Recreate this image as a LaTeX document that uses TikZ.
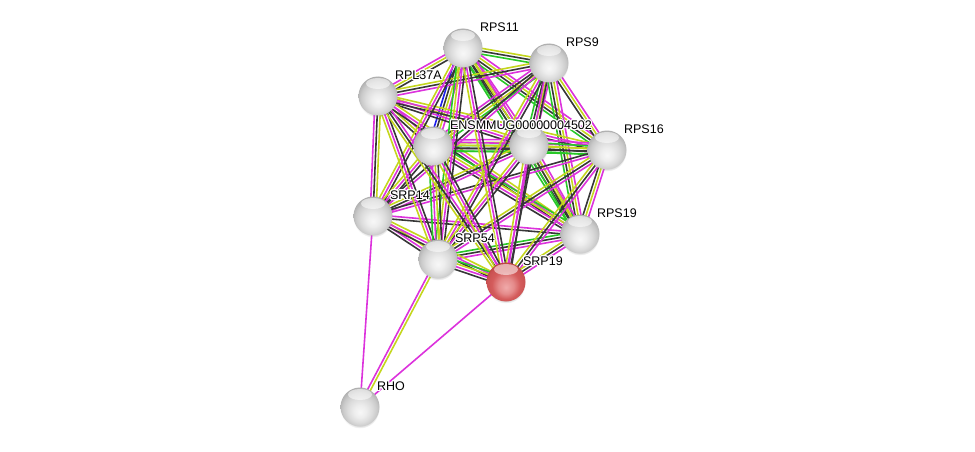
\documentclass[tikz,border=0pt]{standalone}
\usepackage{fontspec}
\usepackage[copies]{contour}
\contourlength{1.1pt}
\contournumber{16}
\newfontfamily\lblfont{Liberation Sans}
\usetikzlibrary{calc}
\usetikzlibrary{shadows}
\usetikzlibrary{backgrounds}

\definecolor{evk}{RGB}{55,55,55}
\definecolor{evm}{RGB}{220,50,220}
\definecolor{evt}{RGB}{196,214,30}
\definecolor{evg}{RGB}{40,200,40}
\definecolor{evb}{RGB}{30,30,235}
\definecolor{redmid}{RGB}{212,92,92}
\definecolor{redrim}{RGB}{160,40,40}
\definecolor{redlow}{RGB}{240,170,170}

\pgfdeclareradialshading{greyball}{\pgfpoint{0bp}{-7bp}}{%
  color(0bp)=(white!94!gray); color(8bp)=(gray!14); color(16bp)=(gray!28);
  color(22bp)=(gray!42); color(27bp)=(gray!62); color(32bp)=(gray!78); color(40bp)=(gray!78)}
\pgfdeclareradialshading{redball}{\pgfpoint{0bp}{-7bp}}{%
  color(0bp)=(redlow); color(10bp)=(redlow!60!redmid); color(18bp)=(redmid);
  color(25bp)=(redmid!80!redrim); color(32bp)=(redrim); color(40bp)=(redrim)}

\tikzset{
  prot/.style={circle,minimum size=39pt,inner sep=0pt,shading=greyball,
    circular drop shadow={shadow xshift=0pt,shadow yshift=-2pt,opacity=.3,shadow scale=1},
    path picture={\fill[white,opacity=.55] ($(path picture bounding box.north)+(0,-7pt)$) ellipse (12pt and 5.5pt);},
    label={[lbl]45:\contour{white}{#1}}},
  qprot/.style={prot=#1,shading=redball},
  lbl/.style={anchor=south west,inner sep=1pt,xshift=2pt,font=\lblfont\fontsize{12.5}{14}\selectfont},
  k/.style={evk,line width=1.6pt},
  m/.style={evm,line width=1.6pt},
  t/.style={evt,line width=1.6pt},
  g/.style={evg,line width=1.6pt},
  b/.style={evb,line width=1.6pt}
}

% one bundle of evidence lines between two proteins
\newcommand\evlinks[3]{%
  \foreach \c [count=\i] in {#3} {\xdef\nlines{\i}}%
  \foreach \c [count=\i] in {#3} {%
    \pgfmathsetmacro\off{(\i-(\nlines+1)/2)*2.9}%
    \draw[\c] ($(#1)!\off pt!90:(#2)$) -- ($(#2)!\off pt!-90:(#1)$);
  }}

\begin{document}
\begin{tikzpicture}[x=1pt,y=-1pt]
\useasboundingbox (0,0) rectangle (975,452);

\node[prot=RPS11] (rps11) at (463,48) {};
\node[prot=RPS9] (rps9) at (549,63) {};
\node[prot=RPL37A] (rpl37a) at (378,96) {};
\node[prot={}] (unk) at (529,145) {};
\node[prot=ENSMMUG00000004502] (ens) at (433,146) {};
\node[prot=RPS16] (rps16) at (607,150) {};
\node[prot=SRP14] (srp14) at (373,216) {};
\node[prot=RPS19] (rps19) at (580,234) {};
\node[prot=SRP54] (srp54) at (438,259) {};
\node[qprot=SRP19] (srp19) at (506,282) {};
\node[prot=RHO] (rho) at (360,407) {};

\begin{pgfonlayer}{background}
% ribosomal proteins
\evlinks{rps11}{rps9}{g,k,t}
\evlinks{rps11}{rpl37a}{m,t,k}
\evlinks{rps11}{ens}{b,k,t,m}
\evlinks{rps11}{unk}{g,k,t,m}
\evlinks{rps11}{rps16}{g,k,t,m}
\evlinks{rps11}{rps19}{g,k,t,m}
\evlinks{rps9}{rpl37a}{t,k,m}
\evlinks{rps9}{ens}{m,k,t,g}
\evlinks{rps9}{unk}{g,k,t,m}
\evlinks{rps9}{rps16}{k,t,m}
\evlinks{rps9}{rps19}{g,k,t,m}
\evlinks{rpl37a}{ens}{k,t,m}
\evlinks{rpl37a}{unk}{k,m,t}
\evlinks{rpl37a}{rps16}{k,m,t}
\evlinks{rpl37a}{rps19}{k,m,t}
\evlinks{ens}{unk}{g,k,g,t,m}
\evlinks{ens}{rps16}{g,k,t,m}
\evlinks{ens}{rps19}{k,m,t,g}
\evlinks{unk}{rps16}{g,k,t,g,m}
\evlinks{unk}{rps19}{g,k,t,m}
\evlinks{rps16}{rps19}{k,t,m}
% srp to ribosome
\evlinks{srp14}{rps11}{k,m,t}
\evlinks{srp14}{rps9}{m,k}
\evlinks{srp14}{rpl37a}{t,k,m}
\evlinks{srp14}{ens}{k,m,t}
\evlinks{srp14}{unk}{m,k,t}
\evlinks{srp14}{rps16}{m,k}
\evlinks{srp14}{rps19}{k,m}
\evlinks{srp54}{rps11}{k,m,t,g}
\evlinks{srp54}{rps9}{k,m,t}
\evlinks{srp54}{rpl37a}{k,m,t}
\evlinks{srp54}{ens}{k,t,m,g}
\evlinks{srp54}{unk}{k,m,t}
\evlinks{srp54}{rps16}{m,k,t}
\evlinks{srp54}{rps19}{m,k,g}
\evlinks{srp19}{rps11}{k,m,t}
\evlinks{srp19}{rps9}{k,m}
\evlinks{srp19}{rpl37a}{m,k,t}
\evlinks{srp19}{ens}{k,m,t}
\evlinks{srp19}{unk}{k,m,t}
\evlinks{srp19}{rps16}{m,k,t}
\evlinks{srp19}{rps19}{m,k,t}
% srp complex
\evlinks{srp14}{srp54}{k,m,t}
\evlinks{srp14}{srp19}{k,m,t}
\evlinks{srp54}{srp19}{k,m,t,g}
% rho
\evlinks{rho}{srp14}{m}
\evlinks{rho}{srp54}{t,m}
\evlinks{rho}{srp19}{m}
\end{pgfonlayer}
\end{tikzpicture}
\end{document}
